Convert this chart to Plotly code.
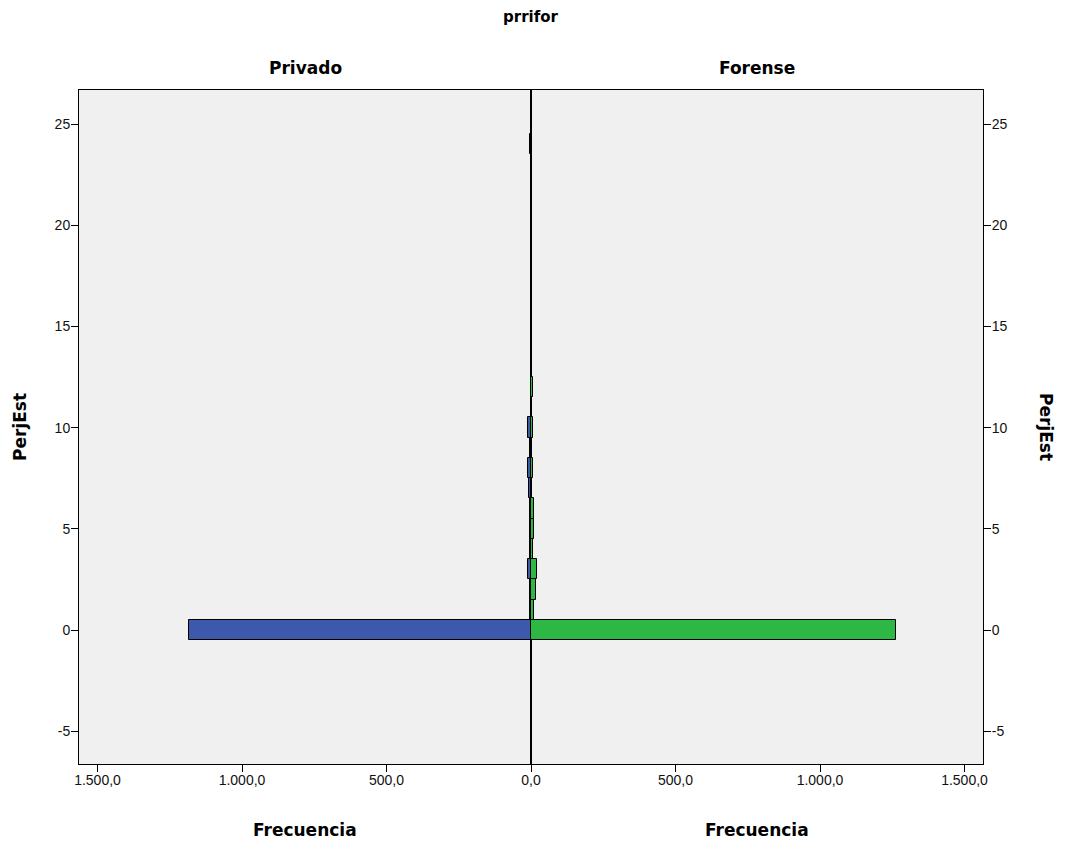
import plotly.graph_objects as go
from plotly.subplots import make_subplots

# PerjEst values and frequency per group
perjest = [0, 1, 2, 3, 4, 5, 6, 7, 8, 9, 10, 12, 24]
privado = [1182, 2, 3, 9, 3, 3, 3, 7, 9, 4, 9, 0, 2]
forense = [1263, 10, 17, 20, 8, 10, 10, 5, 6, 5, 8, 7, 3]

x_ticks_left = [0, 500, 1000, 1500]
x_ticks_right = [0, 500, 1000, 1500]
y_ticks = [-5, 0, 5, 10, 15, 20, 25]

blue = "#3E58AC"
green = "#2DB846"
bg = "#F0F0F0"
tick_font = dict(family="Liberation Sans, Arial", size=14, color="#111")

# the page body has an 8px margin, so the figure is shrunk by that much
W, H, OFF = 1065 - 8, 843 - 8, 8

fig = make_subplots(rows=1, cols=2, horizontal_spacing=0)

fig.add_trace(go.Bar(
    y=perjest, x=privado, orientation="h", width=1,
    marker=dict(color=blue, line=dict(color="black", width=1)),
    name="Privado", showlegend=False
), row=1, col=1)

fig.add_trace(go.Bar(
    y=perjest, x=forense, orientation="h", width=1,
    marker=dict(color=green, line=dict(color="black", width=1)),
    name="Forense", showlegend=False
), row=1, col=2)

xmax = 1564
yr = [-6.62, 26.68]
common_x = dict(showline=True, linecolor="black", linewidth=1, mirror=True,
                showgrid=False, zeroline=False, ticks="outside", ticklen=7,
                tickcolor="black", tickformat=",.1f", tickfont=tick_font,
                ticklabelstandoff=-4)
common_y = dict(showline=True, linecolor="black", linewidth=1, mirror=True,
                showgrid=False, zeroline=False, ticks="outside", ticklen=7,
                tickcolor="black", tickvals=y_ticks,
                ticktext=[str(v) for v in y_ticks], tickfont=tick_font,
                range=yr, ticklabelstandoff=-2)

fig.update_xaxes(range=[xmax, 0], tickvals=x_ticks_left, **common_x, row=1, col=1)
fig.update_xaxes(range=[0, xmax], tickvals=x_ticks_right,
                 ticktext=["", "500,0", "1.000,0", "1.500,0"], **common_x, row=1, col=2)
fig.update_yaxes(side="left", **common_y, row=1, col=1)
fig.update_yaxes(side="right", **common_y, row=1, col=2)

fig.update_layout(
    width=W, height=H,
    margin=dict(l=79 - OFF, r=W - (983 - OFF), t=90 - OFF, b=H - (764 - OFF)),
    plot_bgcolor=bg, paper_bgcolor="white",
    separators=",.",
    bargap=0,
    showlegend=False,
)

px_x = lambda p: (p - 79) / (983 - 79)
px_y = lambda p: (764 - p) / (764 - 90)

def label(text, x, y, size=17, angle=0):
    fig.add_annotation(text=f"<b>{text}</b>", x=px_x(x), y=px_y(y), xref="paper", yref="paper",
                       showarrow=False, textangle=angle,
                       font=dict(family="DejaVu Sans", size=size, color="black"),
                       xanchor="center", yanchor="middle")

label("prrifor", 531, 17, size=15)
label("Privado", 305, 68)
label("Forense", 757, 68)
label("Frecuencia", 305, 830)
label("Frecuencia", 757, 830)
label("PerjEst", 20, 427, angle=-90)
label("PerjEst", 1046, 427, angle=90)

fig.write_html("out.html")
